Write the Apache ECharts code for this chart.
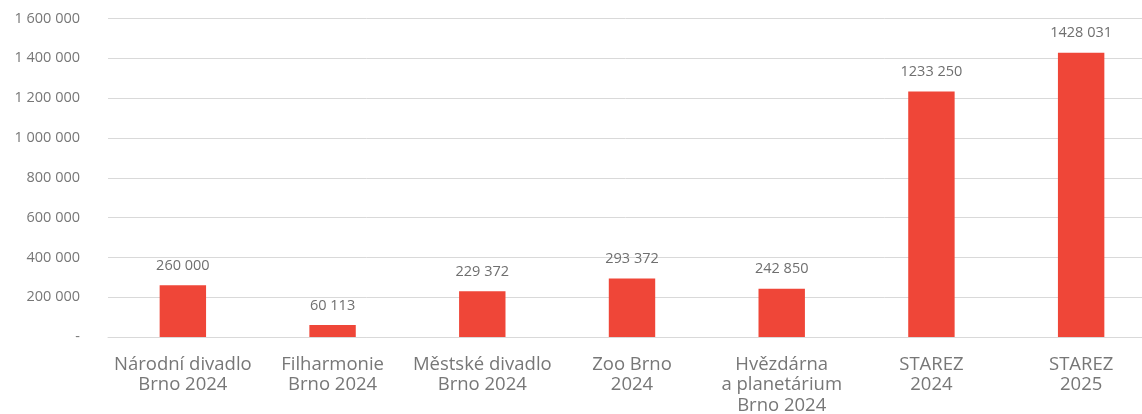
<!DOCTYPE html>
<html>
<head>
<meta charset="utf-8">
<script src="https://cdn.jsdelivr.net/npm/echarts@6/dist/echarts.min.js"></script>
<style>html,body{margin:0;padding:0;background:#fff}#c{width:1142px;height:414px}</style>
</head>
<body>
<div id="c"></div>
<script>
const categories = ["Národní divadlo\nBrno 2024", "Filharmonie\nBrno 2024", "Městské divadlo\nBrno 2024", "Zoo Brno\n2024", "Hvězdárna\na planetárium\nBrno 2024", "STAREZ\n2024", "STAREZ\n2025"];
const values = [260000, 60113, 229372, 293372, 242850, 1233250, 1428031];
const yTicks = [0, 200000, 400000, 600000, 800000, 1000000, 1200000, 1400000, 1600000];

function groupAll(v) {
  if (v === 0) return '-';
  return String(v).replace(/\B(?=(\d{3})+(?!\d))/g, ' ');
}
function groupLast(v) {
  return String(v).replace(/(\d{3})$/, ' $1');
}

const chart = echarts.init(document.getElementById('c'), null, {renderer: 'canvas'});
chart.setOption({
  animation: false,
  grid: {left: 108, top: 18.5, width: 1048, bottom: 77, containLabel: false, outerBoundsMode: 'none'},
  xAxis: {
    type: 'category',
    data: categories,
    axisLine: {show: true, lineStyle: {color: '#d9d9d9', width: 1}},
    axisTick: {show: false},
    axisLabel: {interval: 0, color: '#777777', fontFamily: 'Open Sans', fontSize: 18.5, lineHeight: 20.5, margin: 17}
  },
  yAxis: {
    type: 'value',
    min: yTicks[0], max: yTicks[yTicks.length - 1], interval: 200000,
    axisLine: {show: false},
    axisTick: {show: false},
    splitLine: {lineStyle: {color: '#d9d9d9', width: 1}},
    axisLabel: {color: '#777777', fontFamily: 'Open Sans', fontSize: 14.5, margin: 28,
      formatter: v => groupAll(v)}
  },
  series: [{
    type: 'bar',
    data: values,
    barWidth: '31%',
    itemStyle: {color: '#EF4638'},
    label: {show: true, position: 'top', distance: 12, color: '#6f6f6f', fontFamily: 'Open Sans', fontSize: 14.5,
      formatter: p => groupLast(p.value)}
  }]
});
</script>
</body>
</html>
